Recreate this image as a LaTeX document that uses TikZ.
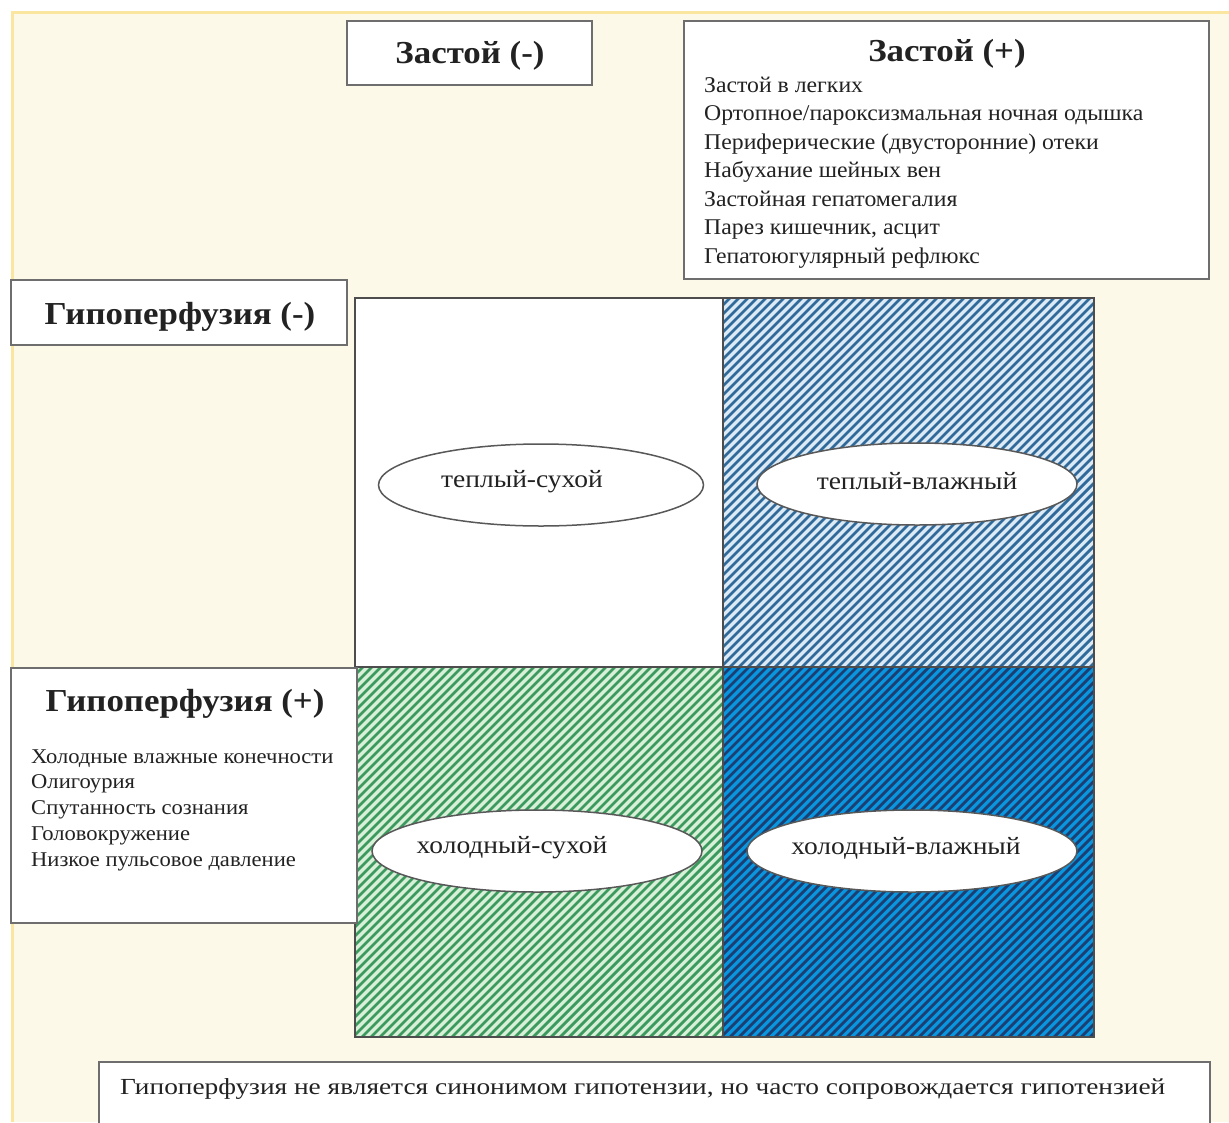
\documentclass[tikz,border=0pt]{standalone}
\usepackage{fontspec}
\setmainfont{Liberation Serif}
\usetikzlibrary{shapes.geometric}
\definecolor{cream}{HTML}{FDF9E8}
\definecolor{frameyel}{HTML}{FBE6A0}
\definecolor{boxgray}{HTML}{6E6E6E}
\definecolor{txt}{HTML}{222222}
\definecolor{hbA}{HTML}{2F6A9A}
\definecolor{hbAbg}{HTML}{DCEAF5}
\definecolor{hgA}{HTML}{3C9A5F}
\definecolor{hgAbg}{HTML}{D8F0D8}
\definecolor{hcA}{HTML}{1B3F73}
\definecolor{hcAbg}{HTML}{0A96DF}
\newcommand\myhatch[6]{%
  \fill[#6] (#1,#2) rectangle (#3,#4);
  \begin{scope}
    \clip (#1,#2) rectangle (#3,#4);
    \foreach \k in {-380,-371,...,380} \draw[#5,line width=2.8pt] (#1+\k,#4) -- ++(400,-400);
  \end{scope}}
\newcommand\ttltext[1]{\scalebox{1.09}[1]{\fontsize{32}{36}\selectfont\bfseries #1}}
\newcommand\elltext[1]{\scalebox{1.1}[1]{\fontsize{25}{28}\selectfont #1}}
\begin{document}
\begin{tikzpicture}[x=1pt,y=-1pt,
  box/.style={draw=boxgray,line width=2pt,fill=white,inner sep=0pt},
  ell/.style={ellipse,draw=boxgray!80!black,line width=1.5pt,fill=white,minimum width=325pt,minimum height=82pt,inner sep=0pt},
  elabel/.style={text=txt,inner sep=0pt},
  ttl/.style={text=txt,inner sep=0pt},
  lst/.style={text=txt,inner sep=0pt,anchor=base west}]
\useasboundingbox (0,0) rectangle (1229,1122);
\fill[white] (0,0) rectangle (1229,1122);
\fill[cream] (12,12) rectangle (1229,1122);
\draw[frameyel,line width=3pt] (12,1122) -- (12,12) -- (1229,12);

% top boxes
\node[box,minimum width=245pt,minimum height=64pt] (zminus) at (469.5,53) {};
\node[ttl] (zminust) at (470,56) {\ttltext{Застой (-)}};
\node[box,minimum width=525pt,minimum height=258pt] (zplus) at (946.5,150) {};
\node[ttl] (zplust) at (947,54) {\ttltext{Застой (+)}};
\foreach \t [count=\i] in {Застой в легких,Ортопное/пароксизмальная ночная одышка,Периферические (двусторонние) отеки,Набухание шейных вен,Застойная гепатомегалия,{Парез кишечник, асцит},Гепатоюгулярный рефлюкс}
  \node[lst] (zp\i) at (704,{92+28.5*(\i-1)}) {\scalebox{1.055}[1]{\fontsize{22.5}{27}\selectfont \t}};

\node[box,minimum width=336pt,minimum height=65pt] (hminus) at (179,312.5) {};
\node[ttl] (hminust) at (180,317) {\ttltext{Гипоперфузия (-)}};

% grid
\draw[boxgray,line width=1.5pt,fill=white] (355,298) rectangle (723,667);
\myhatch{723}{298}{1094}{667}{hbA}{hbAbg}
\myhatch{355}{667}{723}{1037}{hgA}{hgAbg}
\myhatch{723}{667}{1094}{1037}{hcA}{hcAbg}
\draw[boxgray!70!black,line width=1.5pt] (355,298) rectangle (1094,1037) (723,298) -- (723,1037) (355,667) -- (1094,667);

\node[ell] (ws) at (541,485) {};
\node[elabel] (wst) at ([xshift=-19pt,yshift=3pt]ws.center) {\elltext{теплый-сухой}};
\node[ell,minimum width=320pt] (ww) at (917,484) {};
\node[elabel] (wwt) at ([yshift=3pt]ww.center) {\elltext{теплый-влажный}};
\node[ell,minimum width=330pt] (cs) at (537,851) {};
\node[elabel] (cst) at ([xshift=-25pt,yshift=3pt]cs.center) {\elltext{холодный-сухой}};
\node[ell,minimum width=330pt] (cw) at (912,851) {};
\node[elabel] (cwt) at ([xshift=-6pt,yshift=3pt]cw.center) {\elltext{холодный-влажный}};

% hypoperfusion +
\node[box,minimum width=346pt,minimum height=255pt] (hplus) at (184,795.5) {};
\node[ttl] (hplust) at (185,704) {\ttltext{Гипоперфузия (+)}};
\foreach \t [count=\i] in {Холодные влажные конечности,Олигоурия,Спутанность сознания,Головокружение,Низкое пульсовое давление}
  \node[lst] (hp\i) at (31,{763+25.8*(\i-1)}) {\scalebox{1.075}[1]{\fontsize{21}{25}\selectfont \t}};

% bottom note
\draw[boxgray,line width=2pt,fill=white] (1210,1130) -- (1210,1062) -- (99,1062) -- (99,1130);
\node[lst] (note) at (120,1094) {\scalebox{1.19}[1]{\fontsize{23}{26}\selectfont Гипоперфузия не является синонимом гипотензии, но часто сопровождается гипотензией}};
\end{tikzpicture}
\end{document}
